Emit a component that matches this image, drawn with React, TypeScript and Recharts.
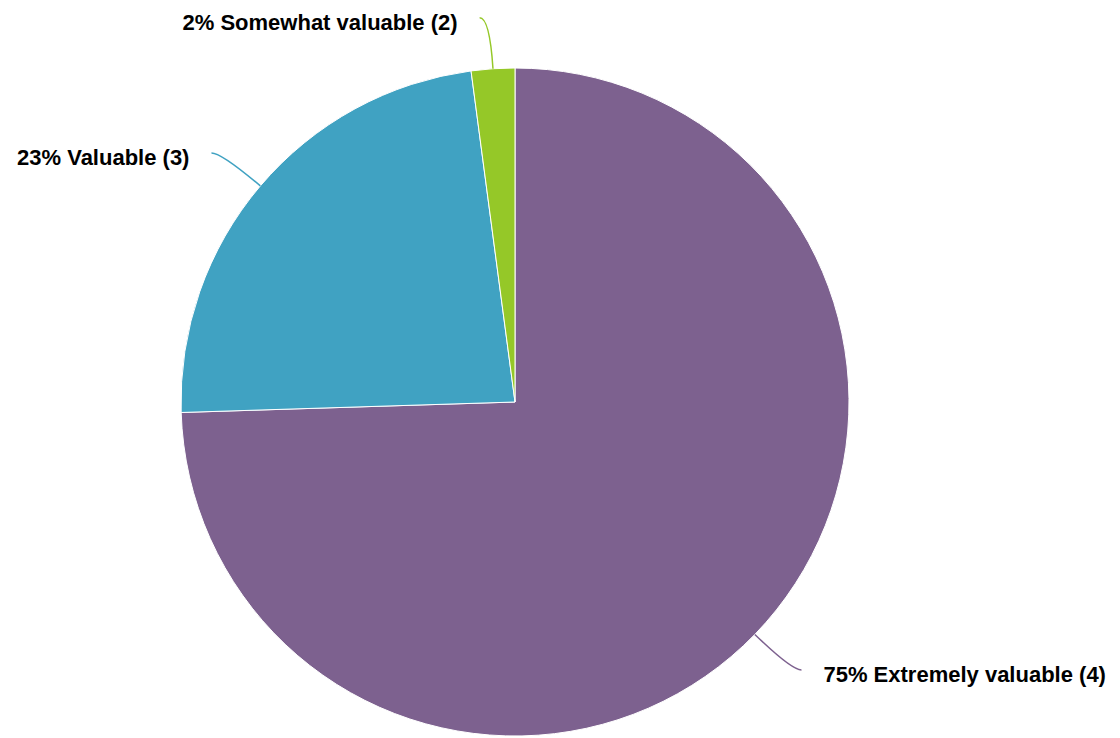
import { PieChart, Pie, Cell } from "recharts";

const categories = ["Extremely valuable (4)", "Valuable (3)", "Somewhat valuable (2)"];
const shares = [74.5, 23.4, 2.1];
const percentLabels = ["75%", "23%", "2%"];
const COLORS = ["#7d618f", "#40a2c2", "#95c828"];

const data = categories.map((name, i) => ({
  name,
  value: shares[i],
  pct: percentLabels[i],
}));

const RAD = Math.PI / 180;

/** Curved leader line plus bold label outside the slice */
function renderLabel({ cx, cy, midAngle, outerRadius, index }: any) {
  const cos = Math.cos(-midAngle * RAD);
  const sin = Math.sin(-midAngle * RAD);
  const sx = cx + outerRadius * cos;
  const sy = cy + outerRadius * sin;
  // bend point straight out from the slice, then a short horizontal tail
  const mx = cx + (outerRadius + 51) * cos;
  const my = cy + (outerRadius + 51) * sin;
  const side = cos >= 0 ? 1 : -1;
  const ex = mx + side * 10;
  const ey = my;
  const d = data[index];
  return (
    <g>
      <path
        d={`M${sx},${sy} Q${mx},${my} ${ex},${ey}`}
        stroke={COLORS[index]}
        strokeWidth={1.5}
        fill="none"
      />
      <text
        x={ex + side * 22}
        y={ey + 5}
        textAnchor={side > 0 ? "start" : "end"}
        dominantBaseline="central"
        style={{
          fontSize: 22,
          fontWeight: 700,
          fill: "#000",
          fontFamily: "'Liberation Sans', Arial, sans-serif",
        }}
      >
        {`${d.pct} ${d.name}`}
      </text>
    </g>
  );
}

export default function App() {
  return (
    <div style={{ position: "absolute", left: 0, top: 0, background: "#fff" }}>
      <PieChart width={1120} height={738} margin={{ top: 0, right: 0, bottom: 0, left: 0 }}>
        <Pie
          data={data}
          dataKey="value"
          nameKey="name"
          cx={515}
          cy={402}
          outerRadius={334}
          startAngle={90}
          endAngle={-270}
          stroke="#fff"
          strokeWidth={1}
          label={renderLabel}
          labelLine={false}
          isAnimationActive={false}
        >
          {data.map((_, i) => (
            <Cell key={i} fill={COLORS[i]} />
          ))}
        </Pie>
      </PieChart>
    </div>
  );
}
